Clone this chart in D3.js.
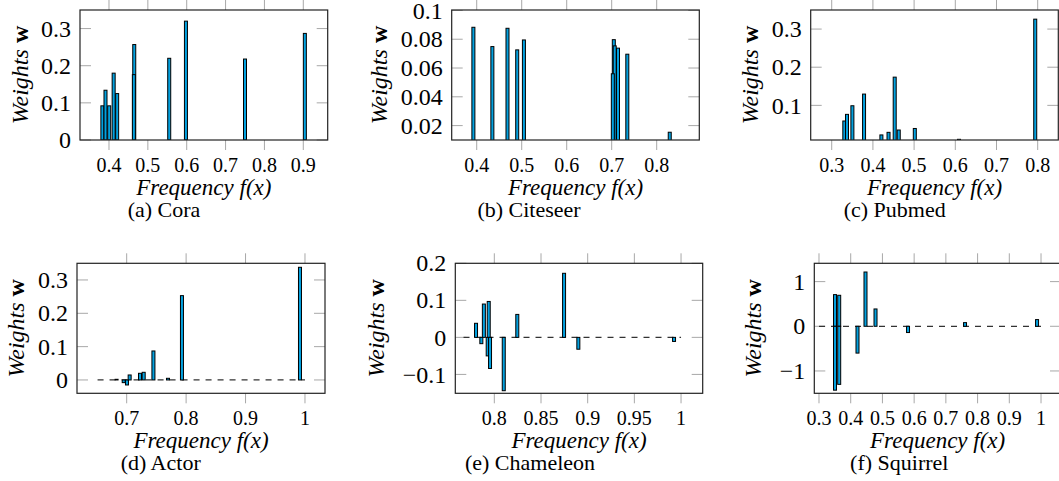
<!DOCTYPE html>
<meta charset="utf-8">
<script src="https://d3js.org/d3.v7.min.js"></script>
<body style="margin:0">
<script>

var width = 1059
var height = 481
var fontName = "Liberation Serif"

// frequencies f(x) and weights w
var coraF = [0.383, 0.391, 0.4005, 0.412, 0.421, 0.465, 0.464, 0.555, 0.598, 0.750, 0.904]
var coraW = [0.092, 0.134, 0.092, 0.180, 0.125, 0.257, 0.176, 0.220, 0.320, 0.218, 0.287]

var citeseerF = [0.3926, 0.4348, 0.4684, 0.490, 0.5049, 0.7047, 0.7067, 0.7025, 0.714, 0.7347, 0.829]
var citeseerW = [0.0883, 0.0749, 0.0876, 0.0726, 0.0795, 0.0797, 0.0754, 0.056, 0.0738, 0.0696, 0.0154]

var pubmedF = [0.3306, 0.3371, 0.3502, 0.3785, 0.4206, 0.4379, 0.4529, 0.4627, 0.5017, 0.609, 0.794]
var pubmedW = [0.059, 0.0764, 0.099, 0.1296, 0.0225, 0.0293, 0.174, 0.0354, 0.0394, 0.011, 0.326]

var actorF = [0.683, 0.695, 0.7005, 0.705, 0.7224, 0.7286, 0.745, 0.7695, 0.793, 0.9916]
var actorW = [0.002, -0.008, -0.015, 0.015, 0.02, 0.023, 0.087, 0.005, 0.253, 0.338]

var chameleonF = [0.7804, 0.7861, 0.7888, 0.7929, 0.7940, 0.7954, 0.8101, 0.8246, 0.8747, 0.89, 0.9925]
var chameleonW = [0.038, -0.017, 0.09, -0.05, 0.097, -0.084, -0.144, 0.062, 0.173, -0.032, -0.011]

var squirrelF = [0.3505, 0.3505, 0.3637, 0.3637, 0.4214, 0.4466, 0.4782, 0.5807, 0.7604, 0.9875]
var squirrelW = [0.709, -1.43, 0.694, -1.30, -0.6, 1.215, 0.388, -0.14, 0.082, 0.15]

// tick values
var coraXTicks = [0.4, 0.5, 0.6, 0.7, 0.8, 0.9]
var coraYTicks = [0, 0.1, 0.2, 0.3]
var citeseerXTicks = [0.4, 0.5, 0.6, 0.7, 0.8]
var citeseerYTicks = [0.02, 0.04, 0.06, 0.08, 0.1]
var pubmedXTicks = [0.3, 0.4, 0.5, 0.6, 0.7, 0.8]
var pubmedYTicks = [0.1, 0.2, 0.3]
var actorXTicks = [0.7, 0.8, 0.9, 1]
var actorYTicks = [0, 0.1, 0.2, 0.3]
var chameleonXTicks = [0.8, 0.85, 0.9, 0.95, 1]
var chameleonYTicks = [-0.1, 0, 0.1, 0.2]
var squirrelXTicks = [0.3, 0.4, 0.5, 0.6, 0.7, 0.8, 0.9, 1]
var squirrelYTicks = [-1, 0, 1]

// dashed zero line extent (x range), null = none
var actorZero = [0.651, 1]
var chameleonZero = [0.767, 1]
var squirrelZero = [0.3, 1]

var panels = [
  {id: "a", caption: "(a) Cora", f: coraF, w: coraW, xd: [0.3254, 0.9628], yd: [0, 0.35],
   xt: coraXTicks, yt: coraYTicks, zero: null, box: [80, 327.7, 10, 140], yl: 52, cap: 164},
  {id: "b", caption: "(b) Citeseer", f: citeseerF, w: citeseerW, xd: [0.3444, 0.8947], yd: [0.01, 0.1003],
   xt: citeseerXTicks, yt: citeseerYTicks, zero: null, box: [451.7, 699.3, 10, 140], yl: 65, cap: 529},
  {id: "c", caption: "(c) Pubmed", f: pubmedF, w: pubmedW, xd: [0.249, 0.85], yd: [0.0092, 0.35],
   xt: pubmedXTicks, yt: pubmedYTicks, zero: null, box: [810.7, 1058.3, 10, 140], yl: 53, cap: 894.7},
  {id: "d", caption: "(d) Actor", f: actorF, w: actorW, xd: [0.6164, 1.0337], yd: [-0.04, 0.35],
   xt: actorXTicks, yt: actorYTicks, zero: actorZero, box: [77, 325, 263.3, 393.3], yl: 53, cap: 160.7},
  {id: "e", caption: "(e) Chameleon", f: chameleonF, w: chameleonW, xd: [0.7582, 1.0232], yd: [-0.151, 0.2],
   xt: chameleonXTicks, yt: chameleonYTicks, zero: chameleonZero, box: [455.3, 702.7, 263.3, 393.3], yl: 71, cap: 530},
  {id: "f", caption: "(f) Squirrel", f: squirrelF, w: squirrelW, xd: [0.2852, 1.063], yd: [-1.5, 1.41],
   xt: squirrelXTicks, yt: squirrelYTicks, zero: squirrelZero, box: [814.3, 1061, 263.3, 393.3], yl: 53.6, cap: 899.3}
]

var svg = d3.select("body").append("svg")
            .attr("width", width)
            .attr("height", height)
            .style("display", "block")
            .style("font-family", fontName)

var defs = svg.append("defs")

function fmt(v) {
  var s = String(+v.toFixed(3))
  return s.replace("-", "\u2212")
}

function draw_panel(p) {
  var left = p.box[0], right = p.box[1], top = p.box[2], bottom = p.box[3]
  var x = d3.scaleLinear().domain(p.xd).range([left, right])
  var y = d3.scaleLinear().domain(p.yd).range([bottom, top])
  var g = svg.append("g").attr("id", "panel_" + p.id)

  defs.append("clipPath").attr("id", "clip_" + p.id)
      .append("rect")
      .attr("x", left).attr("y", top)
      .attr("width", right - left).attr("height", bottom - top)

  // tick marks
  var ticks = g.append("g").style("stroke", "#a8a8a8").style("stroke-width", 1)
  p.xt.forEach(function(t) {
    ticks.append("line").attr("x1", x(t)).attr("x2", x(t)).attr("y1", top - 10).attr("y2", top)
    ticks.append("line").attr("x1", x(t)).attr("x2", x(t)).attr("y1", bottom).attr("y2", bottom + 10)
  })
  p.yt.forEach(function(t) {
    ticks.append("line").attr("x1", left).attr("x2", left + 11).attr("y1", y(t)).attr("y2", y(t))
    ticks.append("line").attr("x1", right - 11).attr("x2", right).attr("y1", y(t)).attr("y2", y(t))
  })

  var inner = g.append("g").attr("clip-path", "url(#clip_" + p.id + ")")

  if (p.zero) {
    inner.append("line")
         .attr("x1", x(p.zero[0])).attr("x2", x(p.zero[1]))
         .attr("y1", y(0)).attr("y2", y(0))
         .style("stroke", "#333")
         .style("stroke-width", 1.2)
         .style("stroke-dasharray", "6,6")
  }

  var data = p.f.map(function(f, i) { return {f: f, w: p.w[i]} })
  inner.selectAll("rect.bar").data(data).enter().append("rect")
       .attr("class", "bar")
       .attr("x", function(d) { return x(d.f) - 1.5 })
       .attr("width", 3)
       .attr("y", function(d) { return Math.min(y(d.w), y(0)) })
       .attr("height", function(d) { return Math.abs(y(d.w) - y(0)) })
       .style("fill", "#03a1df")
       .style("stroke", "#000")
       .style("stroke-width", 1)

  g.append("rect")
   .attr("x", left).attr("y", top)
   .attr("width", right - left).attr("height", bottom - top)
   .style("fill", "none")
   .style("stroke", "#222")
   .style("stroke-width", 1.2)

  // tick labels
  g.selectAll("text.xt").data(p.xt).enter().append("text")
   .attr("class", "xt")
   .attr("x", function(d) { return x(d) })
   .attr("y", bottom + 32)
   .style("font-family", fontName)
   .style("font-size", "20px")
   .style("text-anchor", "middle")
   .text(fmt)

  g.selectAll("text.yt").data(p.yt).enter().append("text")
   .attr("class", "yt")
   .attr("x", left - 9)
   .attr("y", function(d) { return y(d) })
   .attr("dy", "0.34em")
   .style("font-family", fontName)
   .style("font-size", "24px")
   .style("text-anchor", "end")
   .text(fmt)

  // axis labels
  g.append("text")
   .attr("x", (left + right) / 2)
   .attr("y", bottom + 55)
   .style("font-family", fontName)
   .style("font-size", "23px")
   .style("font-style", "italic")
   .style("text-anchor", "middle")
   .text("Frequency f(x)")

  var yl = g.append("text")
   .attr("transform", "translate(" + (left - p.yl) + "," + ((top + bottom) / 2) + ") rotate(-90)")
   .style("font-family", fontName)
   .style("font-size", "24px")
   .style("text-anchor", "middle")
  yl.append("tspan").style("font-style", "italic").text("Weights")
  yl.append("tspan").style("font-weight", "bold").text(" w")

  g.append("text")
   .attr("x", p.cap)
   .attr("y", bottom + 77)
   .style("font-family", fontName)
   .style("font-size", "22px")
   .style("text-anchor", "middle")
   .text(p.caption)
}

panels.forEach(draw_panel)

</script>
</body>
